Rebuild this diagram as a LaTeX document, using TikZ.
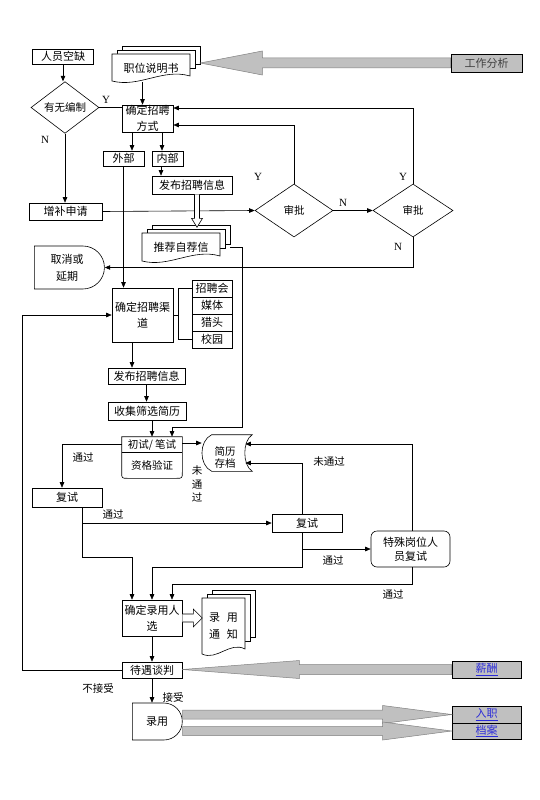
\documentclass[tikz,border=0pt]{standalone}
\usepackage{fontspec}
\setmainfont{Liberation Serif}
\newfontfamily\cjk{Noto Sans CJK SC}
\usetikzlibrary{shapes.geometric,shapes.misc,arrows.meta,calc}

\definecolor{lgray}{HTML}{C0C0C0}
\definecolor{linkblue}{HTML}{2B2BD9}
\definecolor{labelgray}{HTML}{404040}

% stacked documents: name, x1, y1, x2, y2 of the front sheet, text
\newcommand{\docstack}[6]{%
  \foreach \k in {2,1}
    \draw[fill=white] ({#2+5*\k},{#3-4*\k}) rectangle ({#4+5*\k},{#5-10-4*\k});
  \draw[fill=white] (#2,#3) -- (#4,#3) -- (#4,{#5-6})
    .. controls ({#4-0.35*(#4-#2)},{#5-14}) and ({#2+0.35*(#4-#2)},{#5+6}) .. (#2,{#5-1}) -- cycle;
  \node[doc, minimum width={#4-#2}, minimum height={#5-#3}] (#1) at ({(#2+#4)/2},{(#3+#5)/2}) {#6};
}

% wide gray arrow: tail, tip, head length, head half width, shaft half width
\newcommand{\fatarrow}[5]{%
  \draw[fat] let \p1=(#1), \p2=(#2) in
    (\x1,{\y1+#5pt}) -- ({\x2+(#3pt)},{\y1+#5pt}) -- ({\x2+(#3pt)},{\y1+#4pt}) -- (\x2,\y1)
    -- ({\x2+(#3pt)},{\y1-#4pt}) -- ({\x2+(#3pt)},{\y1-#5pt}) -- (\x1,{\y1-#5pt}) -- cycle;
}

\tikzset{
  box/.style={draw, font=\cjk\fontsize{11}{16}\selectfont, align=center, inner sep=0pt},
  choice/.style={diamond, draw, font=\cjk\fontsize{10.5}{13}\selectfont, inner sep=0pt},
  delay/.style={rounded rectangle, rounded rectangle west arc=none, draw,
    font=\cjk\fontsize{11}{17}\selectfont, align=center, inner sep=0pt},
  doc/.style={font=\cjk\fontsize{11}{17}\selectfont, align=center, inner sep=0pt},
  note/.style={font=\cjk\fontsize{10.5}{13.5}\selectfont, align=center, inner sep=0pt},
  yn/.style={font=\fontsize{11}{13}\selectfont, inner sep=0pt},
  link/.style={box, fill=lgray, text=linkblue},
  fat/.style={draw=gray, fill=lgray, line width=0.5pt},
  arr/.style={-{Triangle[length=5.5pt,width=4.5pt]}},
}

\begin{document}
\begin{tikzpicture}[x=1pt, y=-1pt, line width=0.6pt]
\useasboundingbox (0,0) rectangle (540,800);

% left column
\node[box, minimum width=61, minimum height=15] (vac) at (63,56.5) {人员空缺};
\node[choice, minimum width=68, minimum height=51] (bz) at (65,107.5) {有无编制};
\node[box, minimum width=73, minimum height=17] (zb) at (65.5,211.5) {增补申请};
\node[delay, minimum width=70, minimum height=43] (qx) at (67,267.5) {取消或\\延期};

% choosing the way
\docstack{jd}{112}{54}{190}{82}{职位说明书}
\node[box, fill=lgray, text=labelgray, minimum width=71, minimum height=18] (gz) at (486.5,63) {工作分析};
\node[box, minimum width=51, minimum height=27] (ft) at (147.5,118.5) {确定招聘\\方式};
\node[box, minimum width=41, minimum height=15] (wb) at (123.5,158.5) {外部};
\node[box, minimum width=31, minimum height=15] (nb) at (167.5,158.5) {内部};
\node[box, minimum width=80, minimum height=18] (fb1) at (192,185) {发布招聘信息};
\node[choice, minimum width=78, minimum height=53] (sp1) at (294,210.5) {审批};
\node[choice, minimum width=80, minimum height=53] (sp2) at (413,210.5) {审批};
\docstack{tj}{142}{233}{220}{262}{推荐自荐信}

% channels
\node[box, minimum width=61, minimum height=54] (qd) at (142.5,315) {确定招聘渠\\道};
\foreach \n/\t [count=\i] in {c1/招聘会, c2/媒体, c3/猎头, c4/校园}
  \node[box, minimum width=40, minimum height=17] (\n) at (212,{271.5+17*\i}) {\t};
\node[box, minimum width=77, minimum height=16] (fb2) at (146.5,376) {发布招聘信息};
\node[box, minimum width=78, minimum height=18] (sj) at (147,411) {收集筛选简历};

% first test
\node[minimum width=60, minimum height=41, inner sep=0pt] (cs) at (152,457.5) {};
\draw (cs.north west) -- ([yshift=6]cs.south west) .. controls (cs.south west) .. ([xshift=6]cs.south west)
  -- ([xshift=-6]cs.south east) .. controls (cs.south east) .. ([yshift=6]cs.south east) -- (cs.north east) -- cycle;
\draw[line width=1.3pt] ([yshift=-16]cs.north west) -- ([yshift=-16]cs.north east);
\node[note] (csa) at ([yshift=-8]cs.north) {初试/ 笔试};
\node[note] (csb) at ([yshift=13]cs.south) {资格验证};

\node[minimum width=50, minimum height=36, inner sep=0pt] (arch) at (227,453) {};
\draw ([xshift=10]arch.north west) -- (arch.north east)
  .. controls ([xshift=-10,yshift=-6]arch.north east) and ([xshift=-10,yshift=6]arch.south east) .. (arch.south east)
  -- ([xshift=10]arch.south west)
  .. controls ([xshift=-3,yshift=6]arch.south west) and ([xshift=-3,yshift=-6]arch.north west) .. ([xshift=10]arch.north west) -- cycle;
\node[note, font=\cjk\fontsize{10.5}{12}\selectfont] (archtxt) at ([xshift=-2,yshift=-4]arch.center) {简历\\存档};

% further tests
\node[box, minimum width=70, minimum height=19] (fs1) at (67,497.5) {复试};
\node[box, minimum width=70, minimum height=18] (fs2) at (307,523) {复试};
\node[box, rounded corners=6pt, minimum width=79, minimum height=36,
  font=\cjk\fontsize{11}{14}\selectfont] (ts) at (410.5,549) {特殊岗位人\\员复试};

% hiring
\node[box, minimum width=60, minimum height=36] (ly) at (152,618) {确定录用人\\选};
\docstack{tz}{202}{598}{245}{655}{录\hspace{7pt}用\\通\hspace{7pt}知}
\node[box, minimum width=60, minimum height=16] (dy) at (152,670) {待遇谈判};
\node[delay, minimum width=50, minimum height=37] (lu) at (157,721.5) {录用};
\node[link, minimum width=69, minimum height=17] (xc) at (486.5,669.5) {\underline{薪酬}};
\node[link, minimum width=69, minimum height=17] (rz) at (486.5,714.5) {\underline{入职}};
\node[link, minimum width=69, minimum height=16] (da) at (486.5,731) {\underline{档案}};

% connectors, top part
\draw[arr] (vac.south) -- (vac.south |- bz.north);
\draw (bz.east) -- (bz.east -| ft.west);
\draw[arr] (bz.south) -- (bz.south |- zb.north);
\draw[arr] ([xshift=-8.5]jd.south) -- ([xshift=-8.5]jd.south |- ft.north);
\fatarrow{gz.west}{[xshift=10]jd.east}{62}{12}{5}
\draw[arr] ([xshift=8.5]wb.north |- ft.south) -- ([xshift=8.5]wb.north);
\draw[arr] ([xshift=-5.5]nb.north |- ft.south) -- ([xshift=-5.5]nb.north);
\draw[arr] ([xshift=-6.5]nb.south) -- ([xshift=-6.5]nb.south |- fb1.north);
\draw[arr] (wb.south) -- (wb.south |- qd.north);
\draw[arr] (zb.east) -- (sp1.west);
\draw[arr] (sp1.east) -- (sp2.west);
\draw[arr] (sp1.north) |- ([yshift=-6.5]ft.east);
\draw[arr] (sp2.north) |- ([yshift=10.5]ft.east);
\draw[arr] (sp2.south) |- (qx.east);
\draw[fill=white] ([xshift=7.5]fb1.south) -- ++(0,24) -- ++(3,0) -- ++(-5.5,9) -- ++(-5.5,-9) -- ++(3,0) -- ++(0,-24);
\draw[arr] ([xshift=10]tj.east) -- ++(12,0) -- ++(0,180) -| ([xshift=20]cs.north);

% connectors, middle part
\draw (qd.east) -- ++(6,0);
\draw (c1.west) -- ++(-13,0) |- (c4.west);
\draw[arr] (dy.west) -- ++(-99,0) |- (qd.west);
\draw[arr] ([xshift=-10.5]qd.south) -- ([xshift=-10.5]qd.south |- fb2.north);
\draw[arr] (fb2.south) -- (fb2.south |- sj.north);
\draw[arr] (cs.north |- sj.south) -- (cs.north);
\draw[arr] ([yshift=14.5]cs.east) -- ([yshift=10]arch.west);
\draw[arr] ([yshift=13.5]cs.west) -| ([xshift=-5]fs1.north);
\draw[arr] ([xshift=15]fs1.south) |- (fs2.west);
\draw[arr] ([xshift=15]fs1.south) -- ++(0,50) -| ([xshift=-20]ly.north);
\draw[arr] ([xshift=-5]fs2.north) |- ([xshift=-7,yshift=-10]arch.east);
\draw[arr] ([xshift=-5]fs2.south) |- (ts.west);
\draw[arr] ([xshift=-5]fs2.south) -- ++(0,35) -| (ly.north);
\draw[arr] ([xshift=1.5]ts.north) |- ([xshift=-7,yshift=9]arch.east);
\draw[arr] ([xshift=1.5]ts.south) -- ++(0,17) -| ([xshift=20]ly.north);

% connectors, bottom part
\draw[fill=white] ([yshift=4]ly.east) -- ++(11,0) -- ++(0,-5) -- ++(9,9) -- ++(-9,9) -- ++(0,-5) -- ++(-11,0);
\draw[arr] (ly.south) -- (dy.north);
\draw[arr] (dy.south) -- (dy.south |- lu.north);
\fatarrow{xc.west}{dy.east}{117}{9}{5}
\fatarrow{lu.east |- rz.west}{rz.west}{-69}{9}{4.5}
\fatarrow{lu.east |- da.west}{da.west}{-69}{9}{4.5}

% labels
\node[yn] (y1) at (106,100) {Y};
\node[yn] (n1) at (45,140) {N};
\node[yn] (y2) at (258,177) {Y};
\node[yn] (n2) at (343,203) {N};
\node[yn] (y3) at (403,177) {Y};
\node[yn] (n3) at (398,247) {N};
\node[note] (pass1) at (83,457) {通过};
\node[note] (fail1) at (197,484) {未\\通\\过};
\node[note] (pass2) at (113,514) {通过};
\node[note] (fail2) at (329,462) {未通过};
\node[note] (pass3) at (333,560) {通过};
\node[note] (pass4) at (393,594) {通过};
\node[note] (refuse) at (98,688) {不接受};
\node[note] (accept) at (173,697) {接受};
\end{tikzpicture}
\end{document}
